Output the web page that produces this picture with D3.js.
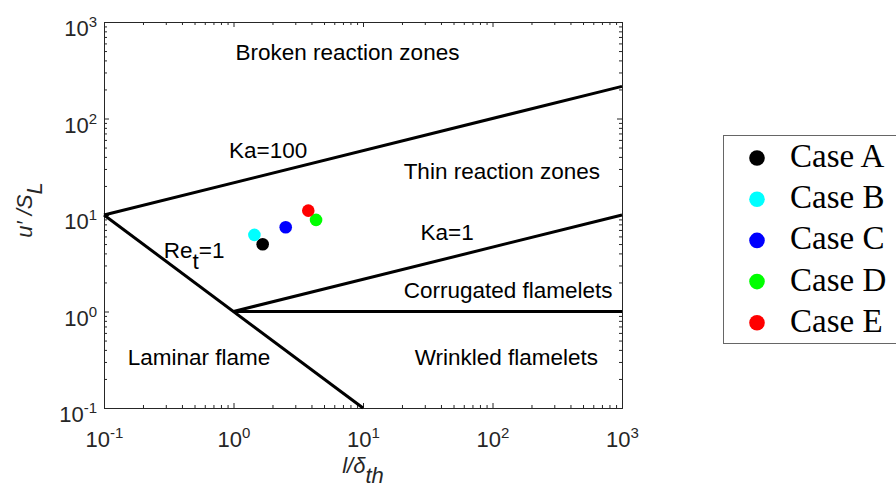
<!DOCTYPE html>
<html>
<head>
<meta charset="utf-8">
<script src="https://cdn.jsdelivr.net/npm/d3@7"></script>
<style>
  html, body { margin: 0; padding: 0; background: #fff; }
  svg { display: block; }
</style>
</head>
<body>
<svg id="chart" width="896" height="491"></svg>
<script>
// Turbulent premixed combustion regime diagram (Borghi / Peters style)
const caseNames = ["Case A", "Case B", "Case C", "Case D", "Case E"];
const caseColors = ["#000000", "#00ffff", "#0000ff", "#00ff00", "#ff0000"];
const caseLengthRatio = [1.68, 1.45, 2.53, 4.34, 3.78];   // l / delta_th
const caseVelocityRatio = [4.98, 6.22, 7.47, 8.90, 11.1]; // u' / S_L

const decadeTicks = [0.1, 1, 10, 100, 1000];
const decadeExponents = ["-1", "0", "1", "2", "3"];

// Regime boundaries (u'/S_L against l/delta_th)
const ka100Line = [[0.1, 10], [1000, 215.4]];   // Ka = 100
const ka1Line = [[1, 1], [1000, 10]];            // Ka = 1
const reLine = [[0.1, 10], [10, 0.1]];           // Re_t = 1
const unityLine = [[1, 1], [1000, 1]];           // u'/S_L = 1

// Regime labels, anchored in data coordinates
const regionLabels = [
  { text: "Broken reaction zones", x: 7.59, y: 490 },
  { text: "Ka=100", x: 1.85, y: 47.3 },
  { text: "Thin reaction zones", x: 118, y: 28.7 },
  { text: "Ka=1", x: 44.6, y: 6.68 },
  { text: "Corrugated flamelets", x: 132, y: 1.67 },
  { text: "Laminar flame", x: 0.542, y: 0.337 },
  { text: "Wrinkled flamelets", x: 128, y: 0.337 }
];
const reLabel = { x: 0.496, y: 4.28 };

const svg = d3.select("#chart");
const plotLeft = 104, plotRight = 622, plotTop = 22, plotBottom = 408;
const axisColor = "#262626";
const font = "'Liberation Sans', Arial, sans-serif";
const labelSize = "22.5px";

const x = d3.scaleLog().domain([0.1, 1000]).range([plotLeft, plotRight]);
const y = d3.scaleLog().domain([0.1, 1000]).range([plotBottom, plotTop]);

// minor ticks 2..9 in every decade
const minorTicks = [];
for (let d = 0.1; d < 1000; d *= 10) {
  for (let k = 2; k <= 9; k++) minorTicks.push(+(d * k).toPrecision(3));
}

function styleAxis(g) {
  g.select(".domain").attr("stroke", axisColor).attr("stroke-width", 1);
  g.selectAll(".tick line").attr("stroke", axisColor).attr("stroke-width", 1);
}

function addAxis(gen, tx, ty, values, size) {
  const a = gen.tickValues(values).tickSizeInner(-size).tickSizeOuter(0)
    .tickFormat(() => "");
  const g = svg.append("g").attr("transform", `translate(${tx},${ty})`).call(a);
  styleAxis(g);
  return g;
}

// Minor ticks on all four sides
addAxis(d3.axisBottom(x), 0, plotBottom, minorTicks, 3);
addAxis(d3.axisTop(x), 0, plotTop, minorTicks, 3);
addAxis(d3.axisLeft(y), plotLeft, 0, minorTicks, 3);
addAxis(d3.axisRight(y), plotRight, 0, minorTicks, 3);
// Major ticks
const gx = addAxis(d3.axisBottom(x), 0, plotBottom, decadeTicks, 5);
addAxis(d3.axisTop(x), 0, plotTop, decadeTicks, 5);
const gy = addAxis(d3.axisLeft(y), plotLeft, 0, decadeTicks, 5);
addAxis(d3.axisRight(y), plotRight, 0, decadeTicks, 5);

// Power-of-ten tick labels
function powerLabel(sel, i) {
  sel.text(null);
  sel.append("tspan").text("10");
  sel.append("tspan").attr("dy", "-9px").attr("font-size", "15px").text(decadeExponents[i]);
}
gx.selectAll(".tick text").each(function (d, i) {
  const t = d3.select(this).attr("font-family", font).attr("font-size", "22px")
    .attr("fill", axisColor).attr("y", 39).attr("dy", 0).attr("text-anchor", "middle");
  powerLabel(t, i);
});
gy.selectAll(".tick text").each(function (d, i) {
  const t = d3.select(this).attr("font-family", font).attr("font-size", "22px")
    .attr("fill", axisColor).attr("x", -7).attr("dy", "13.5px").attr("text-anchor", "end");
  powerLabel(t, i);
});

// Regime boundary lines
const line = d3.line().x(d => x(d[0])).y(d => y(d[1]));
[ka100Line, ka1Line, reLine, unityLine].forEach(pts => {
  svg.append("path").attr("d", line(pts)).attr("fill", "none")
    .attr("stroke", "#000").attr("stroke-width", 3);
});

// Regime labels
svg.append("g").selectAll("text").data(regionLabels).join("text")
  .attr("x", d => x(d.x)).attr("y", d => y(d.y)).attr("dy", "0.35em")
  .attr("text-anchor", "middle").attr("font-family", font).attr("font-size", labelSize)
  .attr("fill", "#000").text(d => d.text);

const re = svg.append("text").attr("x", x(reLabel.x)).attr("y", y(reLabel.y)).attr("dy", "0.35em")
  .attr("text-anchor", "middle").attr("font-family", font).attr("font-size", labelSize).attr("fill", "#000");
re.append("tspan").text("Re");
re.append("tspan").attr("dy", "0.45em").text("t");
re.append("tspan").attr("dy", "-0.45em").text("=1");

// Case markers
const cases = caseNames.map((n, i) => ({ name: n, color: caseColors[i], lx: caseLengthRatio[i], uy: caseVelocityRatio[i] }));
svg.append("g").selectAll("circle").data(cases).join("circle")
  .attr("cx", d => x(d.lx)).attr("cy", d => y(d.uy)).attr("r", 6.3)
  .attr("fill", d => d.color);

// Axis titles
const xt = svg.append("text").attr("x", 363).attr("y", 473).attr("text-anchor", "middle")
  .attr("font-family", font).attr("font-size", "22px").attr("font-style", "italic").attr("fill", axisColor);
xt.append("tspan").text("l/δ");
xt.append("tspan").attr("dy", "0.45em").text("th");

const yt = svg.append("text").attr("transform", "translate(32,210) rotate(-90)").attr("text-anchor", "middle")
  .attr("font-family", font).attr("font-size", "22px").attr("font-style", "italic").attr("fill", axisColor);
yt.append("tspan").text("u′ /S");
yt.append("tspan").attr("dy", "0.45em").text("L");

// Legend
const lg = svg.append("g");
lg.append("rect").attr("x", 723.5).attr("y", 135.5).attr("width", 190).attr("height", 208)
  .attr("fill", "#fff").attr("stroke", "#666").attr("stroke-width", 1);
const rows = lg.selectAll("g.row").data(cases).join("g").attr("class", "row")
  .attr("transform", (d, i) => `translate(0,${158 + i * 41.2})`);
rows.append("circle").attr("cx", 757).attr("cy", 0).attr("r", 7.8).attr("fill", d => d.color);
rows.append("text").attr("x", 790).attr("y", 0).attr("dy", "9px")
  .attr("font-family", "'Liberation Serif', 'DejaVu Serif', serif").attr("font-size", "33px")
  .attr("fill", "#000").text(d => d.name);
</script>
</body>
</html>
